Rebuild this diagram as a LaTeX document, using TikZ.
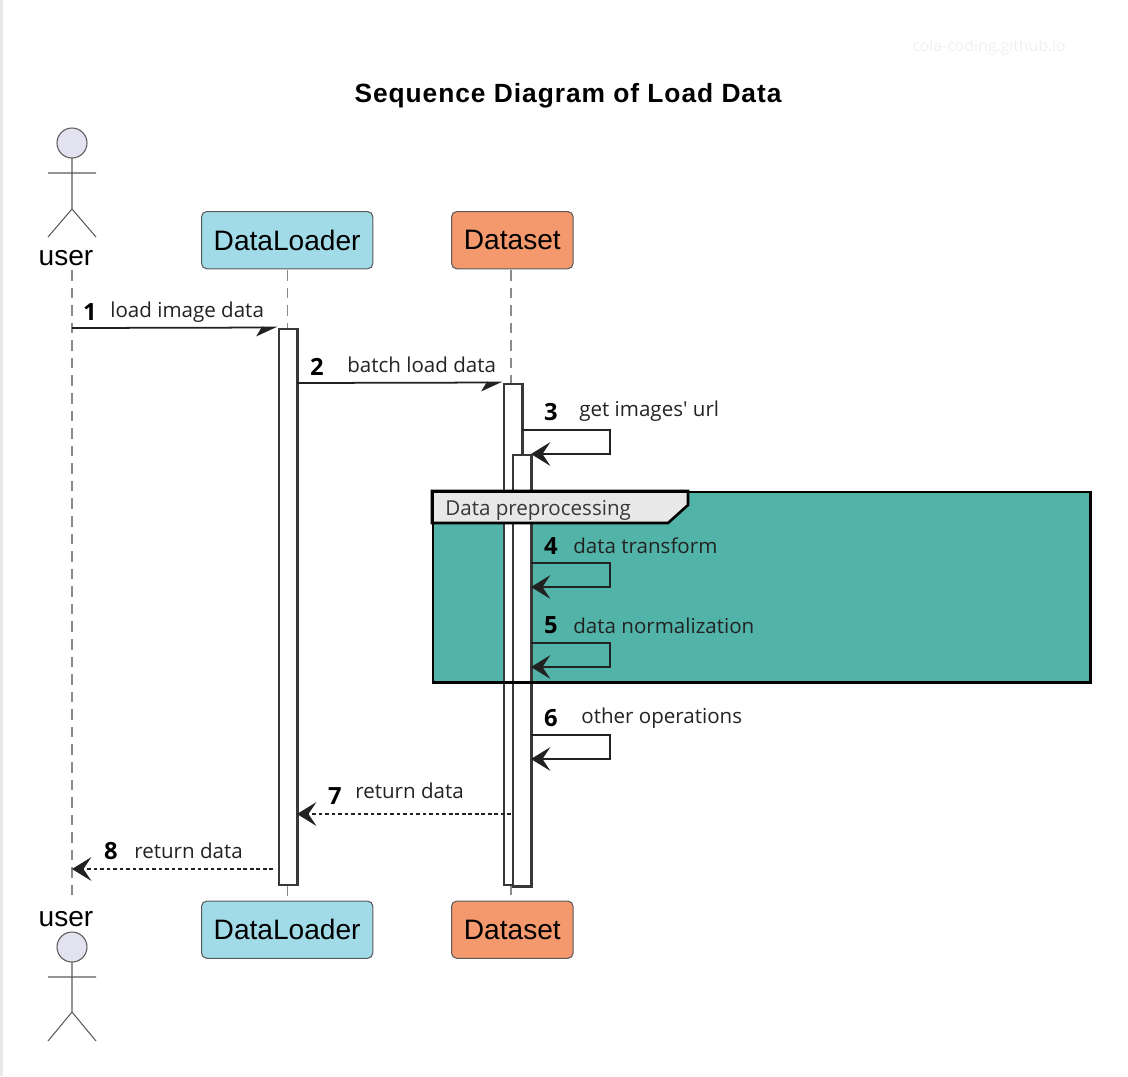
\documentclass[tikz,border=0pt]{standalone}
\usepackage{xcolor}
\usepackage{fontspec}
\setmainfont{Open Sans}
\newfontfamily\boxfont{Liberation Sans}
\newfontfamily\titlefont[LetterSpace=3.6]{Liberation Sans}
\usetikzlibrary{arrows.meta}
\definecolor{loaderblue}{HTML}{A2DBE8}
\definecolor{setorange}{HTML}{F4986E}
\definecolor{framegreen}{HTML}{52B4A9}
\definecolor{actorfill}{HTML}{E2E2F0}
\definecolor{linegray}{HTML}{5A5A5A}
\definecolor{ink}{HTML}{222222}
\tikzset{
  party/.style={draw=linegray, line width=0.6pt, rounded corners=3pt, anchor=north west,
    minimum height=32.6pt, inner sep=0pt, font=\boxfont\fontsize{16}{18}\selectfont, text=black},
  lifeline/.style={draw=linegray!70, line width=0.6pt, dash pattern=on 6pt off 4pt},
  actbar/.style={draw=ink!90, fill=white, line width=1.25pt, anchor=north west, inner sep=0pt, minimum width=10.8pt},
  msg/.style={draw=ink, line width=1pt, -{Stealth[length=11pt,width=13.5pt,inset=4.5pt]}},
  halfmsg/.style={draw=ink, line width=1pt, -{Stealth[length=11pt,width=10pt,inset=3pt,harpoon,swap]}},
  backmsg/.style={msg, dash pattern=on 2.2pt off 1.5pt},
  num/.style={font=\bfseries\fontsize{13.5}{15}\selectfont, text=black},
  lbl/.style={font=\fontsize{11.7}{14}\selectfont, text=ink, anchor=west, inner sep=0pt},
  stick/.style={draw=linegray, line width=0.6pt},
  who/.style={font=\boxfont\fontsize{16}{18}\selectfont, text=black}
}
\begin{document}
\begin{tikzpicture}[x=0.02cm, y=-0.02cm]
  \useasboundingbox (0,0) rectangle (1128,1076);
  \fill[black!9] (0,0) rectangle (3,1076);
  \node[font=\fontsize{9}{10}\selectfont, text=black!6] (mark) at (989,47.5) {cola-coding.github.io};
  \node[font=\titlefont\bfseries\fontsize{15}{18}\selectfont, text=black] (title) at (568,95.5) {Sequence Diagram of Load Data};

  % actors
  \draw[stick, fill=actorfill] (72,143) circle (15);
  \draw[stick] (72,158) -- (72,209) (48,173) -- (96,173) (48,237) -- (72,209) -- (96,237);
  \node[who] (usertop) at (66,258) {user};
  \draw[stick, fill=actorfill] (72,947) circle (15);
  \draw[stick] (72,962) -- (72,1012) (48,977) -- (96,977) (48,1041) -- (72,1012) -- (96,1041);
  \node[who] (userbot) at (66,919) {user};

  \node[party, fill=loaderblue, minimum width=97.5pt] (loadtop) at (201,211) {DataLoader};
  \node[party, fill=setorange, minimum width=69.2pt] (settop) at (451,211) {Dataset};
  \node[party, fill=loaderblue, minimum width=97.5pt] (loadbot) at (201,900.5) {DataLoader};
  \node[party, fill=setorange, minimum width=69.2pt] (setbot) at (451,900.5) {Dataset};

  % lifelines
  \coordinate (userup) at (72,270);
  \coordinate (userdown) at (72,897);
  \coordinate (setup) at (511,270);
  \coordinate (setdown) at (511,900);
  \draw[lifeline] (userup) -- (userdown);
  \draw[lifeline] (loadtop) ++(0,30) -- (loadbot);
  \draw[lifeline] (setup) -- (setdown);

  % preprocessing frame
  \node[draw=none, fill=framegreen, anchor=north west, inner sep=0pt, minimum width=374.2pt, minimum height=108.6pt] (frame) at (431.5,490.5) {};

  % activations
  \node[actbar, minimum height=316.6pt] (barload) at (277.5,327.5) {};
  \node[actbar, minimum height=285.5pt] (barset) at (502.5,382.5) {};
  \node[actbar, minimum height=245.8pt] (barself) at (511.5,453.5) {};

  % frame tab and border
  \filldraw[fill=black!9, draw=black, line width=1.5pt] (432,523) -- (668,523) -- (688,505) -- (688,491) -- (432,491) -- cycle;
  \node[draw=black, line width=1.5pt, anchor=north west, inner sep=0pt, minimum width=374.2pt, minimum height=108.6pt] (border) at (431.5,490.5) {};
  \node[lbl, text=ink!90] (tabtext) at (445,510) {Data preprocessing};

  % messages
  \coordinate (from1) at (72,328);
  \draw[halfmsg] (from1) -- (barload.north west);
  \node[num] (n1) at (90,312) {1};
  \node[lbl] (t1) at (110,312) {load image data};

  \coordinate (from2) at (297,383);
  \draw[halfmsg] (from2) -- (barset.north west);
  \node[num] (n2) at (317,367) {2};
  \node[lbl] (t2) at (347,365) {batch load data};

  \coordinate (from3) at (522,430);
  \coordinate (to3) at (531,454);
  \draw[msg] (from3) -- (610,430) -- (610,454) -- (to3);
  \node[num] (n3) at (551,412) {3};
  \node[lbl] (t3) at (579,411) {get images\textquotesingle{} url};

  \coordinate (from4) at (531,563);
  \coordinate (to4) at (531,587);
  \draw[msg] (from4) -- (610,563) -- (610,587) -- (to4);
  \node[num] (n4) at (551,546) {4};
  \node[lbl] (t4) at (573,546) {data transform};

  \coordinate (from5) at (531,643);
  \coordinate (to5) at (531,667);
  \draw[msg] (from5) -- (610,643) -- (610,667) -- (to5);
  \node[num] (n5) at (551,625) {5};
  \node[lbl] (t5) at (573,626) {data normalization};

  \coordinate (from6) at (531,735);
  \coordinate (to6) at (531,759);
  \draw[msg] (from6) -- (610,735) -- (610,759) -- (to6);
  \node[num] (n6) at (551,718) {6};
  \node[lbl] (t6) at (581,718) {other operations};

  \coordinate (from7) at (511,814);
  \coordinate (to7) at (297,814);
  \draw[backmsg] (from7) -- (to7);
  \node[num] (n7) at (335,796) {7};
  \node[lbl] (t7) at (355,791) {return data};

  \coordinate (from8) at (273,869);
  \coordinate (to8) at (72,869);
  \draw[backmsg] (from8) -- (to8);
  \node[num] (n8) at (111,851) {8};
  \node[lbl] (t8) at (134,851) {return data};
\end{tikzpicture}
\end{document}
